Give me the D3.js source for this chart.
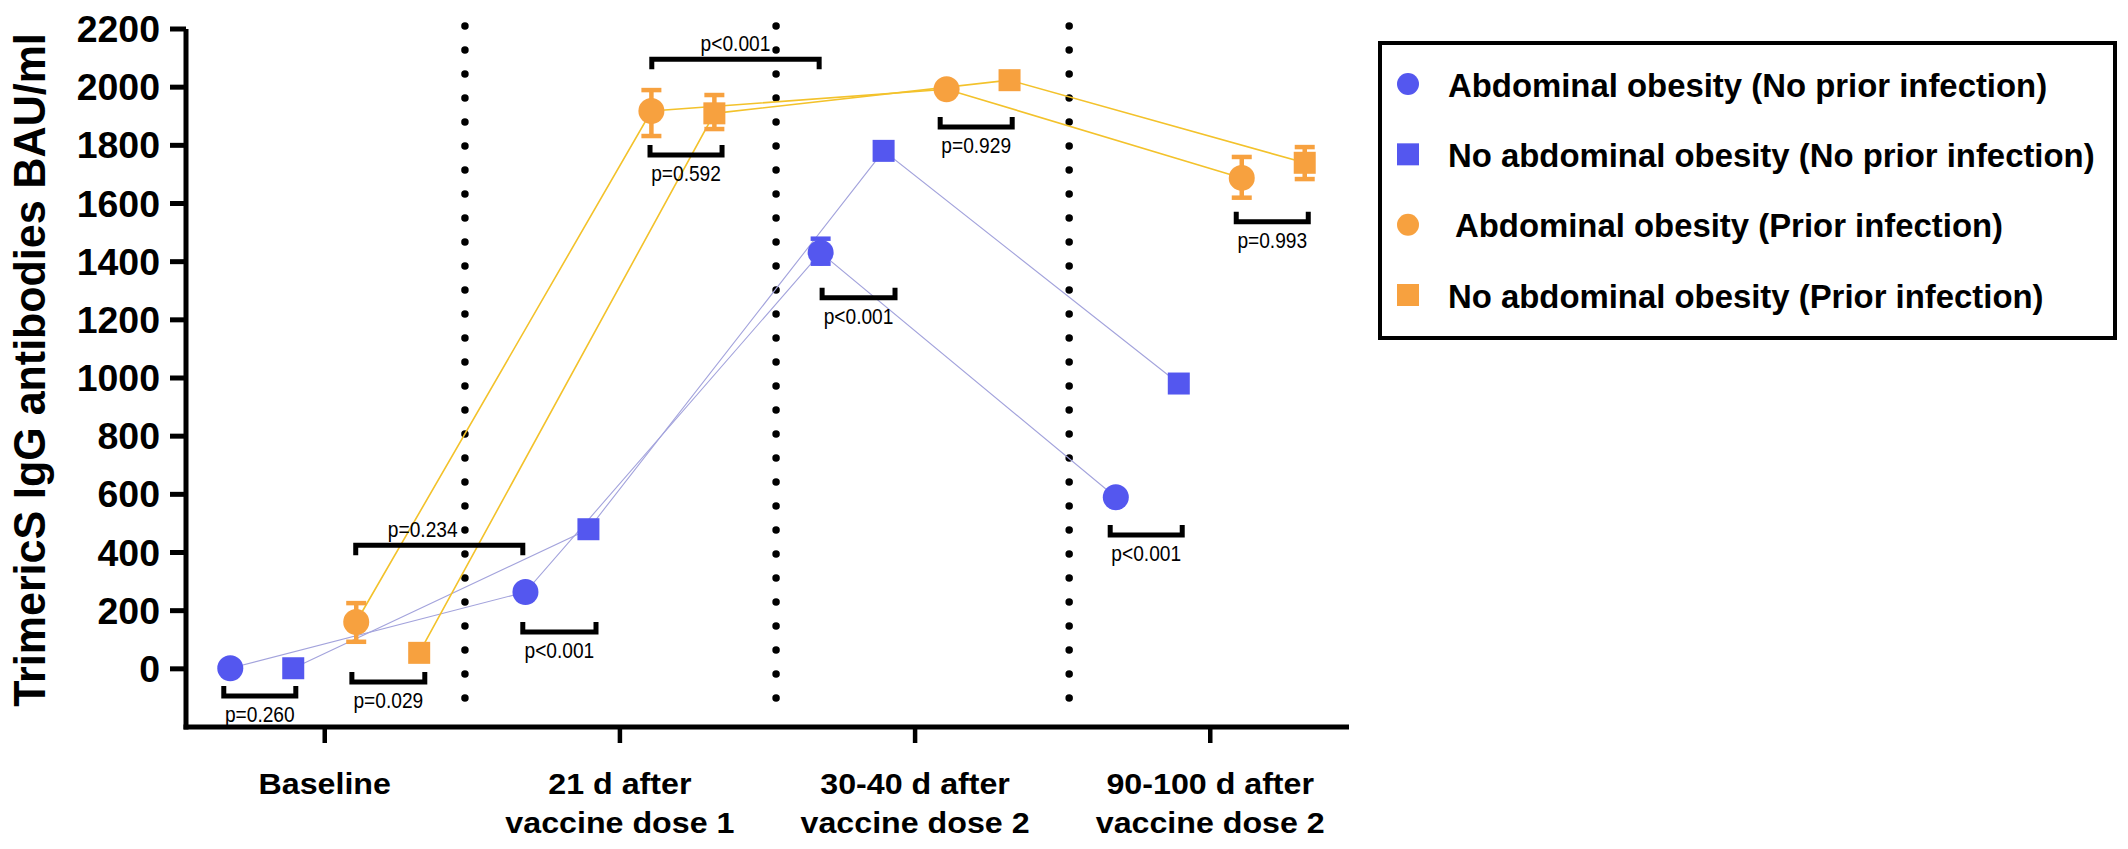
<!DOCTYPE html>
<html>
<head>
<meta charset="utf-8">
<script src="https://cdn.jsdelivr.net/npm/d3@7"></script>
<style>
  html, body { margin: 0; padding: 0; background: #ffffff; }
  svg { display: block; }
  text { font-family: "Liberation Sans", Arial, Helvetica, sans-serif; fill: #000; }
</style>
</head>
<body>
<svg id="chart" width="2128" height="849"></svg>
<script>
// ---------------- DATA ----------------
const categories = ["Baseline", "21 d after vaccine dose 1", "30-40 d after vaccine dose 2", "90-100 d after vaccine dose 2"];
const catLine1 = ["Baseline", "21 d after", "30-40 d after", "90-100 d after"];
const catLine2 = ["", "vaccine dose 1", "vaccine dose 2", "vaccine dose 2"];

const seriesNames = [
  "Abdominal obesity (No prior infection)",
  "No abdominal obesity (No prior infection)",
  "Abdominal obesity (Prior infection)",
  "No abdominal obesity (Prior infection)"
];
const seriesShapes = ["circle", "square", "circle", "square"];
const seriesColors = ["#5457EF", "#5457EF", "#F7A13F", "#F7A13F"];
const lineColors   = ["#A3A3DC", "#A3A3DC", "#F3C22B", "#F3C22B"];

// mean values per series across the four time points (BAU/ml)
const abdObNoPrior   = [2, 264, 1431, 590];
const noAbdObNoPrior = [2, 480, 1781, 981];
const abdObPrior     = [161, 1918, 1993, 1688];
const noAbdObPrior   = [55, 1910, 2024, 1740];
const seriesValues = [abdObNoPrior, noAbdObNoPrior, abdObPrior, noAbdObPrior];

// error bars [low, high] (null = not visible)
const abdObNoPriorErr   = [null, null, [1393, 1479], null];
const noAbdObNoPriorErr = [null, null, null, null];
const abdObPriorErr     = [[93, 226], [1832, 1990], null, [1620, 1760]];
const noAbdObPriorErr   = [null, [1856, 1973], null, [1684, 1794]];
const seriesErrors = [abdObNoPriorErr, noAbdObNoPriorErr, abdObPriorErr, noAbdObPriorErr];

const yTicks = [0, 200, 400, 600, 800, 1000, 1200, 1400, 1600, 1800, 2000, 2200];
const yTitle = "TrimericS IgG antibodies BAU/ml";

// dotted separators, in category-index units
const separators = [0.475, 1.529, 2.522];

// significance brackets: x in category-index units, y in BAU/ml
const bracketX1 = [-0.342, 0.092, 0.105, 0.671, 1.108, 1.102, 1.685, 2.085, 2.661, 3.088];
const bracketX2 = [-0.098, 0.339, 0.671, 0.919, 1.675, 1.346, 1.932, 2.329, 2.905, 3.332];
const bracketY  = [-93, -45, 425, 127, 2096, 1767, 1276, 1863, 460, 1537];
const bracketLabels = ["p=0.260", "p=0.029", "p=0.234", "p<0.001", "p<0.001", "p=0.592", "p<0.001", "p=0.929", "p<0.001", "p=0.993"];
const bracketSide = ["below", "below", "above", "below", "above", "below", "below", "below", "below", "below"];
const bracketLabelX = [null, null, 0.332, null, null, null, null, null, null, null];

// ---------------- LAYOUT ----------------
const svg = d3.select("#chart");
const plotLeft = 186, plotRight = 1349, plotTop = 29, plotBottom = 727;

const y = d3.scaleLinear().domain([-200, 2200]).range([plotBottom, plotTop]);
const xCat = d3.scalePoint().domain(d3.range(categories.length)).range([plotLeft, plotRight]).padding(0.47);
const step = xCat.step();
const xc = v => xCat(0) + v * step; // continuous category units
const xOff = d3.scalePoint().domain(d3.range(seriesNames.length)).range([-0.32 * step, 0.32 * step]);
const px = (c, s) => xCat(c) + xOff(s);

function stretch(sel, sx) {
  sel.each(function () {
    const len = this.getComputedTextLength();
    d3.select(this).attr("textLength", len * sx).attr("lengthAdjust", "spacingAndGlyphs");
  });
}

// dotted separators
svg.append("g").selectAll("line").data(separators).join("line")
  .attr("x1", d => xc(d)).attr("x2", d => xc(d))
  .attr("y1", y(2200) - 3).attr("y2", y(-170))
  .attr("stroke", "#000").attr("stroke-width", 7.5)
  .attr("stroke-linecap", "round").attr("stroke-dasharray", "0 24");

// connecting lines
const lineGen = d3.line();
seriesValues.forEach((vals, s) => {
  svg.append("path")
    .attr("d", lineGen(vals.map((v, c) => [px(c, s), y(v)])))
    .attr("fill", "none").attr("stroke", lineColors[s])
    .attr("stroke-width", s < 2 ? 1.1 : 1.6);
});

// error bars
seriesErrors.forEach((errs, s) => {
  errs.forEach((e, c) => {
    if (!e) return;
    const g = svg.append("g").attr("stroke", seriesColors[s]).attr("stroke-width", 4.5);
    const cx = px(c, s);
    g.append("line").attr("x1", cx).attr("x2", cx).attr("y1", y(e[0])).attr("y2", y(e[1]));
    g.append("line").attr("x1", cx - 10).attr("x2", cx + 10).attr("y1", y(e[0])).attr("y2", y(e[0]));
    g.append("line").attr("x1", cx - 10).attr("x2", cx + 10).attr("y1", y(e[1])).attr("y2", y(e[1]));
  });
});

// markers
function drawMarker(g, shape, cx, cy, color, r, side) {
  if (shape === "circle") {
    g.append("circle").attr("cx", cx).attr("cy", cy).attr("r", r).attr("fill", color);
  } else {
    g.append("rect").attr("x", cx - side / 2).attr("y", cy - side / 2)
      .attr("width", side).attr("height", side).attr("fill", color);
  }
}
const markG = svg.append("g");
seriesValues.forEach((vals, s) => {
  vals.forEach((v, c) => drawMarker(markG, seriesShapes[s], px(c, s), y(v), seriesColors[s], 13, 22));
});

// brackets
const brG = svg.append("g");
bracketLabels.forEach((lab, i) => {
  const x1 = xc(bracketX1[i]), x2 = xc(bracketX2[i]), yy = y(bracketY[i]);
  const below = bracketSide[i] === "below";
  const leg = below ? -10 : 10;
  brG.append("path")
    .attr("d", `M${x1},${yy + leg}V${yy}H${x2}V${yy + leg}`)
    .attr("fill", "none").attr("stroke", "#000").attr("stroke-width", 5);
  const lx = bracketLabelX[i] != null ? xc(bracketLabelX[i]) : (x1 + x2) / 2;
  const t = brG.append("text").attr("x", lx).attr("y", below ? yy + 26 : yy - 8)
    .attr("text-anchor", "middle").attr("font-size", 22).text(lab);
  stretch(t, 0.87);
});

// y axis
const yAxisG = svg.append("g");
yAxisG.append("line").attr("x1", plotLeft).attr("x2", plotLeft)
  .attr("y1", y(2200)).attr("y2", plotBottom + 2.5)
  .attr("stroke", "#000").attr("stroke-width", 5);
yAxisG.selectAll("line.tick").data(yTicks).join("line").attr("class", "tick")
  .attr("x1", plotLeft - 16).attr("x2", plotLeft)
  .attr("y1", d => y(d)).attr("y2", d => y(d))
  .attr("stroke", "#000").attr("stroke-width", 5);
const yLab = yAxisG.selectAll("text").data(yTicks).join("text")
  .attr("x", plotLeft - 26).attr("y", d => y(d) + 13)
  .attr("text-anchor", "end").attr("font-size", 36).attr("font-weight", "bold")
  .text(d => d);
stretch(yLab, 1.04);

// y title
const yT = svg.append("text")
  .attr("transform", `translate(45,${(y(2200) + plotBottom) / 2 - 8}) rotate(-90)`)
  .attr("text-anchor", "middle").attr("font-size", 44).attr("font-weight", "bold")
  .text(yTitle);
stretch(yT, 0.977);

// x axis
const xAxisG = svg.append("g");
xAxisG.append("line").attr("x1", plotLeft - 2.5).attr("x2", plotRight)
  .attr("y1", plotBottom).attr("y2", plotBottom)
  .attr("stroke", "#000").attr("stroke-width", 5);
xAxisG.selectAll("line.tick").data(d3.range(categories.length)).join("line").attr("class", "tick")
  .attr("x1", d => xCat(d)).attr("x2", d => xCat(d))
  .attr("y1", plotBottom).attr("y2", plotBottom + 16)
  .attr("stroke", "#000").attr("stroke-width", 4.5);
const xl1 = xAxisG.selectAll("text.l1").data(catLine1).join("text").attr("class", "l1")
  .attr("x", (d, i) => xCat(i)).attr("y", plotBottom + 67)
  .attr("text-anchor", "middle").attr("font-size", 29).attr("font-weight", "bold").text(d => d);
stretch(xl1, 1.11);
const xl2 = xAxisG.selectAll("text.l2").data(catLine2).join("text").attr("class", "l2")
  .attr("x", (d, i) => xCat(i)).attr("y", plotBottom + 106)
  .attr("text-anchor", "middle").attr("font-size", 29).attr("font-weight", "bold").text(d => d);
stretch(xl2.filter(d => d !== ""), 1.11);

// legend
const lg = svg.append("g");
lg.append("rect").attr("x", 1380).attr("y", 43).attr("width", 735).attr("height", 295)
  .attr("fill", "none").attr("stroke", "#000").attr("stroke-width", 4);
const legRowY = d3.scalePoint().domain(d3.range(seriesNames.length)).range([84, 295]);
seriesNames.forEach((name, s) => {
  const cy = legRowY(s);
  drawMarker(lg, seriesShapes[s], 1408, cy, seriesColors[s], 11, 22);
  const t = lg.append("text").attr("x", s % 2 === 0 && s > 0 ? 1455 : 1448).attr("y", cy + 12.5)
    .attr("font-size", 34).attr("font-weight", "bold").text(name);
  stretch(t, 0.967);
});
</script>
</body>
</html>
